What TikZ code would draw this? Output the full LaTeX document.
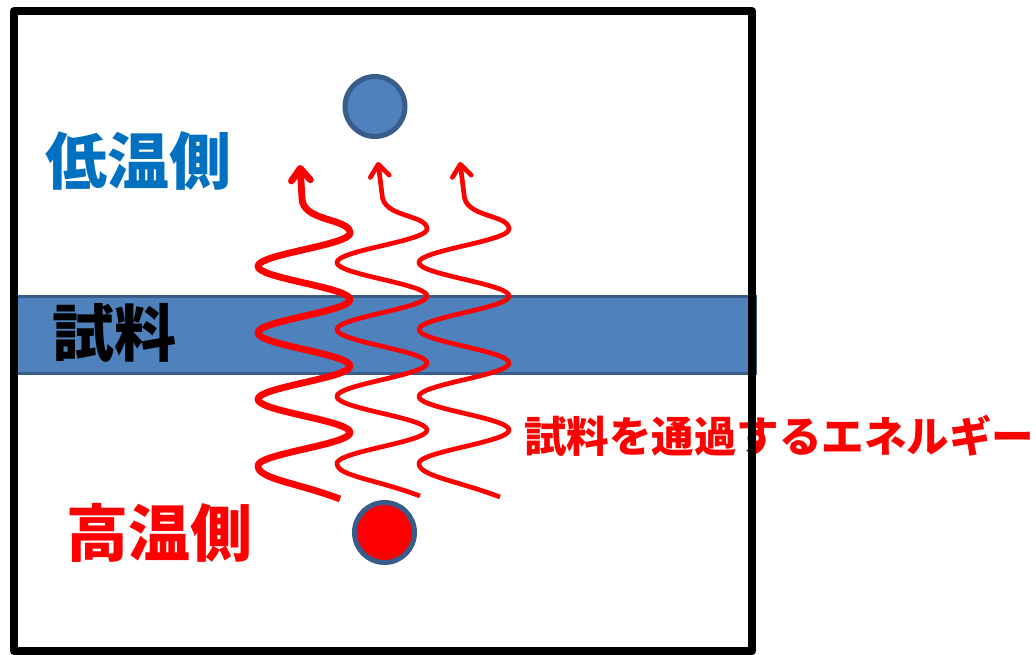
\documentclass[tikz,border=0pt]{standalone}
\usepackage{fontspec}
\setmainfont{Noto Sans CJK JP}
\usetikzlibrary{arrows.meta}
\definecolor{bandfill}{HTML}{4F81BD}
\definecolor{bandline}{HTML}{385D8A}
\definecolor{lowblue}{HTML}{0070C0}
\begin{document}
\begin{tikzpicture}[x=1pt,y=-1pt,
  wavy/.style={draw=red, line width=4.7pt, line join=round, -{Straight Barb[length=12pt,width=19pt,round]}},
  bigtxt/.style={font=\fontsize{62}{62}\selectfont\bfseries, inner sep=0pt},
  midtxt/.style={font=\fontsize{42.5}{42.5}\selectfont\bfseries, inner sep=0pt},
  dot/.style={circle, draw=bandline, line width=5pt, minimum size=60pt, inner sep=0pt}]
\useasboundingbox (0,0) rectangle (1036,655);
% sample band
\filldraw[fill=bandfill, draw=bandline, line width=3.5pt] (16,296.5) rectangle (755,373.5);
\node[bigtxt, text=black] (sample) at (114.5,333) {試料};
% waves
\coordinate (e1) at (340,499);
\coordinate (e2) at (420,496);
\coordinate (e3) at (500,497);
\draw[wavy, line width=6.8pt] (e1) .. controls (295,482) and (258,479) .. (258,465.75)
   -- plot[domain=465.75:233, samples=150, variable=\t] ({304+46*sin((\t-233)*5.4135+90)}, \t)
   .. controls (350,218) and (302,222) .. (302,198) -- (300,165);
\draw[wavy] (e2) .. controls (375,479) and (337,476) .. (337,463.5)
   -- plot[domain=463.5:229, samples=150, variable=\t] ({382+45*sin((\t-229)*5.3731+90)}, \t)
   .. controls (427,214) and (382,218) .. (382,194) -- (378,162);
\draw[wavy] (e3) .. controls (455,480) and (419,476) .. (419,463.5)
   -- plot[domain=463.5:229, samples=150, variable=\t] ({464+45*sin((\t-229)*5.3731+90)}, \t)
   .. controls (509,214) and (464,218) .. (464,194) -- (460,162);
% circles
\node[dot, fill=bandfill] (cold) at (375,106.5) {};
\node[dot, fill=red] (hot) at (384.5,532.5) {};
% labels
\node[bigtxt, text=lowblue] (low) at (138.5,161) {低温側};
\node[bigtxt, text=red] (high) at (159,533) {高温側};
\node[midtxt, text=red] (energy) at (779,436) {試料を通過するエネルギー};
% frame
\draw[line width=8pt, line join=round] (14,11) rectangle (752,651);
\end{tikzpicture}
\end{document}
